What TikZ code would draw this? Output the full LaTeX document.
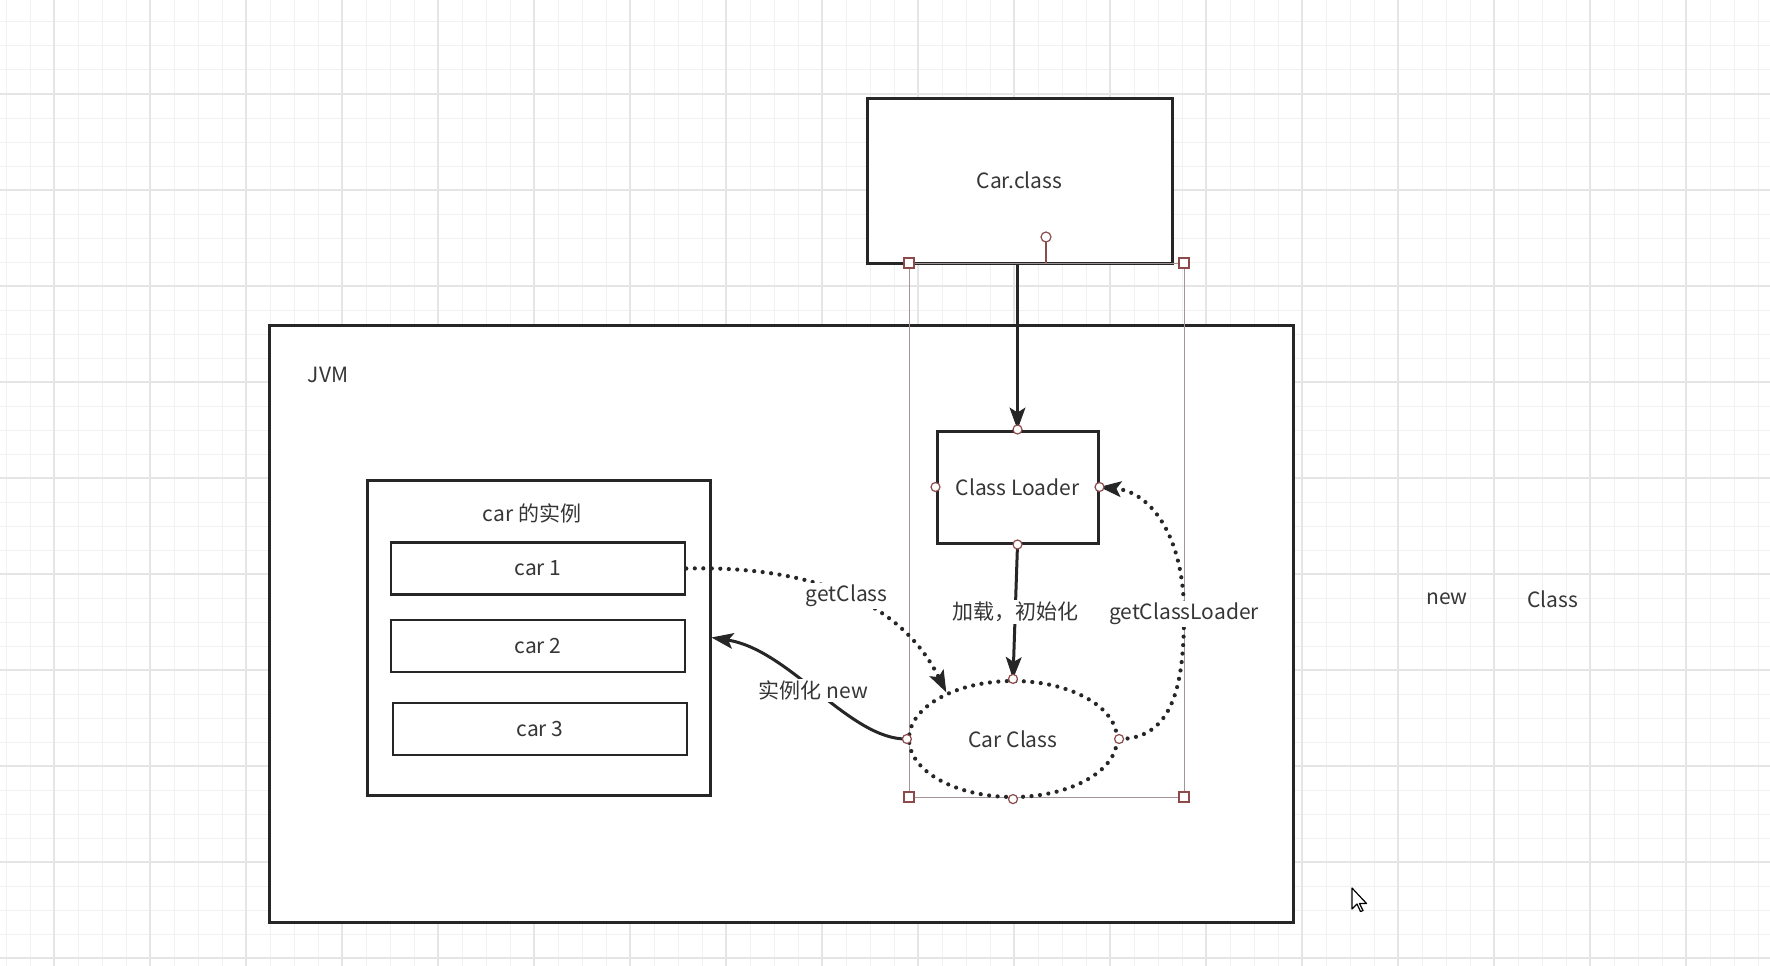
\documentclass[tikz,border=0pt]{standalone}
\usepackage{fontspec}
\setmainfont{Noto Sans CJK SC}
\usetikzlibrary{arrows.meta,shapes.geometric}
\definecolor{ink}{HTML}{262626}
\definecolor{txt}{HTML}{363636}
\definecolor{gridminor}{HTML}{F1F1F1}
\definecolor{gridmajor}{HTML}{E5E5E5}
\definecolor{handle}{HTML}{8C4A4A}
\definecolor{selline}{HTML}{A39699}

\begin{document}
\begin{tikzpicture}[x=1pt,y=-1pt,
  font=\fontsize{21}{25}\selectfont, text=txt,
  box/.style={rectangle, draw=ink, line width=3pt, fill=white, inner sep=0pt},
  item/.style={box, line width=2.6pt, minimum width=294pt, minimum height=52pt},
  tipend/.style={-{Stealth[length=22pt,width=16pt,inset=5pt,line width=1pt]}},
  conn/.style={draw=ink, line width=3pt, tipend},
  dotpath/.style={draw=ink, line width=4.2pt, line cap=round, dash pattern=on 0pt off 8.5pt},
  lbl/.style={fill=white, inner sep=2pt, text=txt},
  hmark/.style={draw=handle, fill=white, line width=1.2pt},
  gminor/.style={draw=gridminor, line width=1pt},
  gmajor/.style={draw=gridmajor, line width=1.2pt},
]
\useasboundingbox (0,0) rectangle (1770,966);
\fill[white] (0,0) rectangle (1770,966);

% canvas grid
\foreach \x in {6,30,...,1770} \draw[gminor] (\x,0) -- (\x,966);
\foreach \y in {22,46,...,966} \draw[gminor] (0,\y) -- (1770,\y);
\foreach \x in {54,150,...,1770} \draw[gmajor] (\x,0) -- (\x,966);
\foreach \y in {94,190,...,966} \draw[gmajor] (0,\y) -- (1770,\y);

% containers
\node[box, minimum width=1024pt, minimum height=597pt] (jvm) at (781,623.5) {};
\node (jvmlabel) at (328,375) {JVM};
\node[box, minimum width=305pt, minimum height=165pt] (carclass) at (1019.5,180.5) {Car.class};

\node[box, minimum width=343pt, minimum height=315pt] (inst) at (538.5,637.5) {};
\node (insttitle) at (532,513) {car 的实例};
\node[item] (car1) at (538,568.5) {car 1};
\node[item] (car2) at (538,646) {car 2};
\node[item] (car3) at (540,729) {car 3};

% selection frame
\draw[selline, line width=1pt] (909,263) rectangle (1184,797);

% loader and class object
\node[box, minimum width=161pt, minimum height=112pt] (cl) at (1017.5,487) {Class Loader};
\node[ellipse, dotpath, fill=white, minimum width=208pt, minimum height=116pt, inner sep=0pt]
  (cc) at (1013,739) {Car Class};

% connectors
\draw[conn] (carclass.south -| cl.north) -- (cl.north);
\draw[conn] (cl.south) -- node[lbl] {加载，初始化} (cc.north);
\draw[dotpath, tipend] (car1.east) .. controls (790,566) and (895,590) ..
  node[lbl, pos=0.54] {getClass} (cc.145);
\draw[dotpath, tipend] (cc.east) .. controls (1175,739) and (1184,680) .. (1184,614)
  node[lbl] {getClassLoader}
  .. controls (1184,535) and (1150,492) .. (cl.east);
\draw[conn] (cc.west) .. controls (850,740) and (790,650) ..
  node[lbl, pos=0.52] {实例化 new} (inst.east);

% free-standing words
\node (lblnew) at (1447,599) {new};
\node (lblclass) at (1553,599) {Class};

% selection handles
\foreach \p in {(909,263),(1184,263),(909,797),(1184,797)}
  \filldraw[hmark] \p +(-5pt,-5pt) rectangle +(5pt,5pt);
\draw[handle, line width=1.2pt] (1046,242) -- (1046,263);
\filldraw[hmark] (1046,237) circle (5pt);
\foreach \a in {cl.north,cl.south,cl.east,cl.west,cc.north,cc.south,cc.east,cc.west}
  \filldraw[hmark] (\a) circle (4.5pt);

% mouse pointer
\filldraw[fill=white, draw=black, line width=1.2pt, line join=round]
  (1352,888) -- ++(0,21) -- ++(5,-5) -- ++(3.5,7.5) -- ++(2.5,-1) -- ++(-3.5,-7)
  -- ++(7,0) -- cycle;
\end{tikzpicture}
\end{document}
